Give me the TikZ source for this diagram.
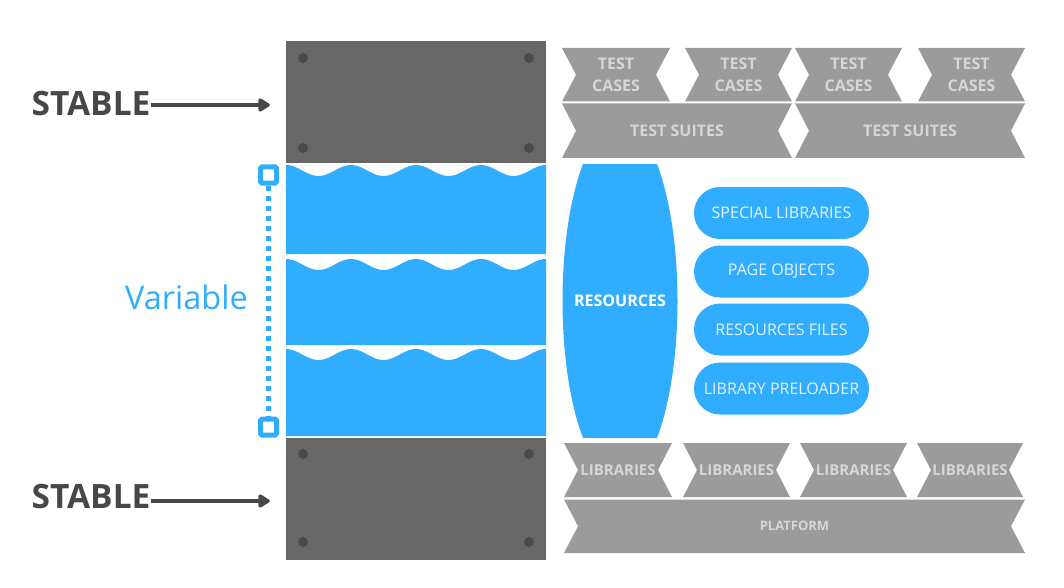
\documentclass[tikz,border=0pt]{standalone}
\usepackage{fontspec}
\setmainfont{Open Sans}
\usetikzlibrary{arrows.meta}

\definecolor{blockGray}{HTML}{676767}
\definecolor{dotGray}{HTML}{4A4A4A}
\definecolor{chevGray}{HTML}{9B9B9B}
\definecolor{chevText}{HTML}{D6D6D6}
\definecolor{varBlue}{HTML}{31ADFF}
\definecolor{pillText}{HTML}{E4F2FF}
\definecolor{labelGray}{HTML}{474747}

\begin{document}
\begin{tikzpicture}
[x=1pt,y=-1pt,
  blockDecorate/.style={fill=blockGray,minimum width=260pt,minimum height=122pt,inner sep=0pt},
  stableDecorate/.style={text=labelGray,font=\bfseries\fontsize{33.5}{40}\selectfont,inner sep=0pt},
  arrowDecorate/.style={-{Triangle[round,length=13pt,width=15pt]},line width=4pt,draw=labelGray,shorten >=16pt},
  chevronDecorate/.style={text=chevText,align=center,inner sep=0pt},
  pillDecorate/.style={fill=varBlue,rounded corners=26pt,minimum width=175pt,minimum height=52pt,
    text=pillText,font=\fontsize{16}{19}\selectfont},
  markDecorate/.style={draw=varBlue,fill=white,line width=5pt,rounded corners=1.5pt,minimum size=16pt,inner sep=0pt}]
\useasboundingbox (0,0) rectangle (1064,588);
%% stable blocks
\node (blockTop) at (416,102) [blockDecorate] {};
\node (blockBot) at (416,499) [blockDecorate] {};
\foreach \px in {303,529}
  \foreach \py in {58,148,454,542}
    \fill[dotGray] (\px,\py) circle (5);
%% stable labels
\node (stableTop) at (91,104) [stableDecorate] {STABLE};
\node (stableBot) at (91,497) [stableDecorate] {STABLE};
\draw[arrowDecorate] ([yshift=-1pt]stableTop.east) -- ([yshift=-1pt]stableTop.east -| blockTop.west);
\draw[arrowDecorate] ([yshift=-4pt]stableBot.east) -- ([yshift=-4pt]stableBot.east -| blockBot.west);
%% variable layers
\foreach \ya/\yb in {165/254, 259/345, 349/436}
{
  \fill[varBlue] plot[domain=0:260,samples=120] ({286+\x},{\ya+5.5-5.5*cos(5.53846*\x)})
    -- (546,\yb) -- (286,\yb) -- cycle;
}
\node (varTop) at (268.5,175) [markDecorate] {};
\node (varBot) at (268.5,427) [markDecorate] {};
\draw[varBlue,line width=5pt,dash pattern=on 5pt off 5pt] (varTop.south) -- (varBot.north);
\node (variable) at (186.5,309) [anchor=base,inner sep=0pt,text=varBlue,font=\fontsize{32.5}{38}\selectfont] {Variable};
%% resources
\begin{scope}
  \clip (562,165) rectangle (678,437);
  \fill[varBlue] (620,301) ellipse [x radius=57.5, y radius=179];
\end{scope}
\node (resources) at (620,301) [text=white,font=\bfseries\fontsize{16}{19}\selectfont] {RESOURCES};
\foreach \nodename/\y/\txt in {
  special/213/SPECIAL LIBRARIES, pages/271.5/PAGE OBJECTS,
  files/329.5/RESOURCES FILES, preloader/388.5/LIBRARY PRELOADER}
{
  \node (\nodename) at (781.5,\y) [pillDecorate] {\txt};
}
%% ribbons
\foreach \nodename/\xa/\xb/\ya/\yb/\fs/\txt in {
  caseA/562/670/48/101.5/16/{TEST\\CASES}, caseB/685/792/48/101.5/16/{TEST\\CASES},
  caseC/795/902/48/101.5/16/{TEST\\CASES}, caseD/918/1025/48/101.5/16/{TEST\\CASES},
  suiteA/562/792/103.5/158/16/{TEST SUITES}, suiteB/795/1025/103.5/158/16/{TEST SUITES},
  libA/564/672/443/497/15/LIBRARIES, libB/683/790/443/497/15/LIBRARIES,
  libC/800/907/443/497/15/LIBRARIES, libD/917/1023/443/497/15/LIBRARIES,
  platform/564/1025/499.5/553/13/PLATFORM}
{
  \fill[chevGray] (\xa,\ya) -- (\xb,\ya) -- ({\xb-14},{(\ya+\yb)/2}) -- (\xb,\yb)
    -- (\xa,\yb) -- ({\xa+14},{(\ya+\yb)/2}) -- cycle;
  \node (\nodename) at ({(\xa+\xb)/2},{(\ya+\yb)/2}) [chevronDecorate,
    font=\bfseries\fontsize{\fs}{22}\selectfont] {\txt};
}
\end{tikzpicture}
\end{document}
